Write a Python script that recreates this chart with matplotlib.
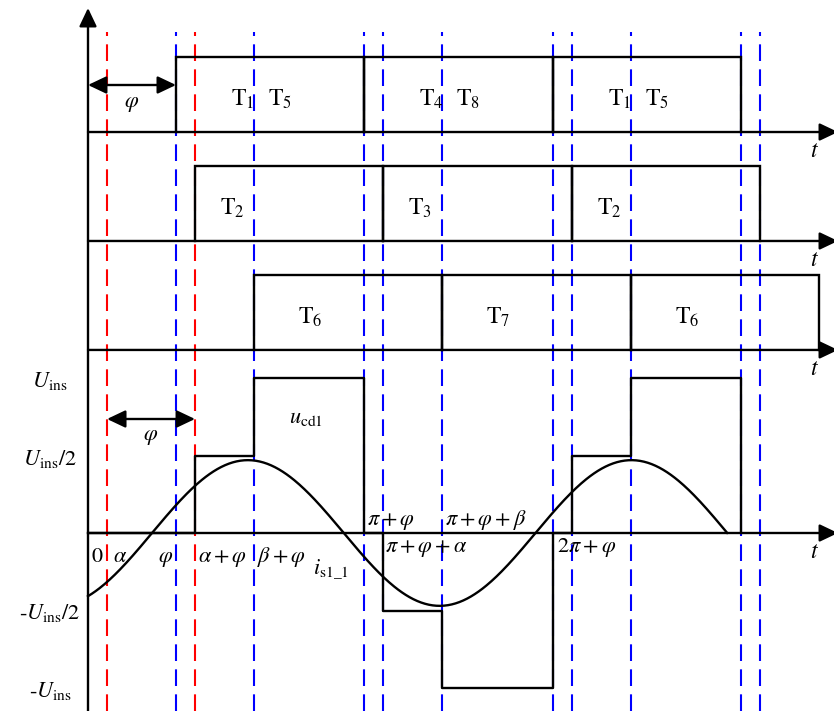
import numpy as np
import matplotlib.pyplot as plt

plt.rcParams['font.family'] = 'STIXGeneral'
plt.rcParams['mathtext.fontset'] = 'stix'

# switching angles (deg)
alpha = 18.2
phi = 84.1
beta = 74.6

# gate lanes, top to bottom: turn-on angle of each conduction interval + labels
lane_a_on = [phi, 180 + phi, 360 + phi]
lane_a_labels = [[r'$\mathrm{T}_1$', r'$\mathrm{T}_5$'],
                 [r'$\mathrm{T}_4$', r'$\mathrm{T}_8$'],
                 [r'$\mathrm{T}_1$', r'$\mathrm{T}_5$']]
lane_b_on = [alpha + phi, 180 + alpha + phi, 360 + alpha + phi]
lane_b_labels = [[r'$\mathrm{T}_2$'], [r'$\mathrm{T}_3$'], [r'$\mathrm{T}_2$']]
lane_c_on = [beta + phi, 180 + beta + phi, 360 + beta + phi]
lane_c_labels = [[r'$\mathrm{T}_6$'], [r'$\mathrm{T}_7$'], [r'$\mathrm{T}_6$']]

# u_cd1 in units of U_ins, piecewise constant
ucd_edges = [0, alpha + phi, beta + phi, 180 + phi, 180 + phi + alpha, 180 + phi + beta,
             360 + phi, 360 + phi + alpha, 360 + phi + beta, 540 + phi]
ucd_levels = [0, 0.5, 1, 0, -0.5, -1, 0, 0.5, 1, 0]

# i_s1_1 (sinusoid): amplitude, first zero crossing, half period, end angle
i_amp = 0.47
i_zero = 61.2
i_half = 183.3
i_end = 611.0

# dashed guides
red_lines = [alpha, alpha + phi]
blue_lines = [phi, beta + phi, 180 + phi, 180 + phi + alpha, 180 + phi + beta,
              360 + phi, 360 + phi + alpha, 360 + phi + beta, 540 + phi, 540 + phi + alpha]

# level labels
level_vals = [1, 0.5, -0.5, -1]
level_text = [r'$U_{\rm ins}$', r'$U_{\rm ins}/2$', r'-$U_{\rm ins}/2$', r'-$U_{\rm ins}$']

# angle labels on the u_cd1 axis: text, angle, pixel offset (dx, dy), alignment
angle_text = ['0', r'$\alpha$', r'$\varphi$', r'$\alpha+\varphi$', r'$\beta+\varphi$',
              r'$\pi+\varphi$', r'$\pi+\varphi+\beta$', r'$\pi+\varphi+\alpha$', r'$2\pi+\varphi$']
angle_pos = [0, alpha, phi, alpha + phi, beta + phi,
             180 + phi, 180 + phi + beta, 180 + phi + alpha, 360 + phi]
angle_off = [(3, -29), (6, -29), (-3, -29), (3, -29), (3, -29),
             (3, 8), (3, 8), (2, -19), (4, -19)]
angle_ha = ['left', 'left', 'right', 'left', 'left', 'left', 'left', 'left', 'left']

# layout
PX = 188.3 / 180          # pixels per degree
PY = 155.0                # pixels per U_ins
lane_base = [2.587, 1.884, 1.181]
pulse_h = 0.484
lane_dx = [[55, 92], [25], [44]]   # label offsets from interval start (px)
LW = 1.7

fig = plt.figure(figsize=(8.34, 7.11), dpi=100)
ax = fig.add_axes([0, 0, 1, 1])
ax.set_xlim(-88 / PX, (834 - 88) / PX)
ax.set_ylim(-178 / PY, 533 / PY)
ax.axis('off')

y_bot = -178 / PY
y_dash_top = (533 - 32) / PY
x_tip = (838 - 88) / PX

# dashed guide lines
for x in red_lines:
    ax.plot([x, x], [y_bot, y_dash_top], color='#ff0000', lw=1.5,
            linestyle=(0, (8, 4)), zorder=1)
for x in blue_lines:
    ax.plot([x, x], [y_bot, y_dash_top], color='#0000ff', lw=1.5,
            linestyle=(0, (8, 4)), zorder=1)

arrow = dict(arrowstyle='-|>,head_length=0.8,head_width=0.38', color='k', lw=LW,
             mutation_scale=14, shrinkA=0, shrinkB=0)
darrow = dict(arrowstyle='<|-|>,head_length=0.8,head_width=0.38', color='k', lw=LW,
              mutation_scale=14, shrinkA=0, shrinkB=0)

# vertical axis
ax.annotate('', xy=(0, (533 - 8) / PY), xytext=(0, y_bot), arrowprops=arrow,
            annotation_clip=False, zorder=3)

# time axes with "t"
for b in lane_base + [0]:
    ax.annotate('', xy=(x_tip, b), xytext=(0, b), arrowprops=arrow,
                annotation_clip=False, zorder=3)
    ax.annotate(r'$t$', xy=((815 - 88) / PX, b), xytext=(0, -25),
                textcoords='offset pixels', ha='center', va='baseline', fontsize=17)

# gate pulses
lanes = [(lane_a_on, lane_a_labels), (lane_b_on, lane_b_labels), (lane_c_on, lane_c_labels)]
for k, (ons, labels) in enumerate(lanes):
    b = lane_base[k]
    for on, labs in zip(ons, labels):
        ax.plot([on, on, on + 180, on + 180], [b, b + pulse_h, b + pulse_h, b],
                color='k', lw=LW, zorder=2, solid_joinstyle='miter')
        for lab, dx in zip(labs, lane_dx[k]):
            ax.annotate(lab, xy=(on, b), xytext=(dx, 26), textcoords='offset pixels',
                        ha='left', va='baseline', fontsize=17)

# u_cd1
ax.step(ucd_edges, ucd_levels, where='post', color='k', lw=LW, zorder=2)
ax.annotate(r'$u_{\rm cd1}$', xy=(beta + phi, 1), xytext=(35, -45),
            textcoords='offset pixels', ha='left', va='baseline', fontsize=16)

# i_s1_1
th = np.linspace(0, i_end, 500)
ax.plot(th, i_amp * np.sin((th - i_zero) / i_half * np.pi), color='k', lw=LW, zorder=2)
ax.annotate(r'$i_{\rm s1\_1}$', xy=((331 - 88) / PX, 0), xytext=(0, -40),
            textcoords='offset pixels', ha='center', va='baseline', fontsize=16)

# phase-shift arrows
ya = (533 - 85) / PY
ax.annotate('', xy=(phi, ya), xytext=(0, ya), arrowprops=darrow)
ax.annotate(r'$\varphi$', xy=(phi / 2, ya), xytext=(0, -19), textcoords='offset pixels',
            ha='center', va='center', fontsize=16)
yb = (533 - 419) / PY
ax.annotate('', xy=(alpha + phi, yb), xytext=(alpha, yb), arrowprops=darrow)
ax.annotate(r'$\varphi$', xy=(alpha + phi / 2, yb), xytext=(0, -18), textcoords='offset pixels',
            ha='center', va='center', fontsize=16)

# level labels
for v, s in zip(level_vals, level_text):
    ax.annotate(s, xy=(-38 / PX, v), xytext=(0, -9), textcoords='offset pixels',
                ha='center', va='baseline', fontsize=16, annotation_clip=False)

# angle labels
for s, x, off, ha in zip(angle_text, angle_pos, angle_off, angle_ha):
    ax.annotate(s, xy=(x, 0), xytext=off, textcoords='offset pixels',
                ha=ha, va='baseline', fontsize=16)

fig.savefig('out.png', dpi=100)
